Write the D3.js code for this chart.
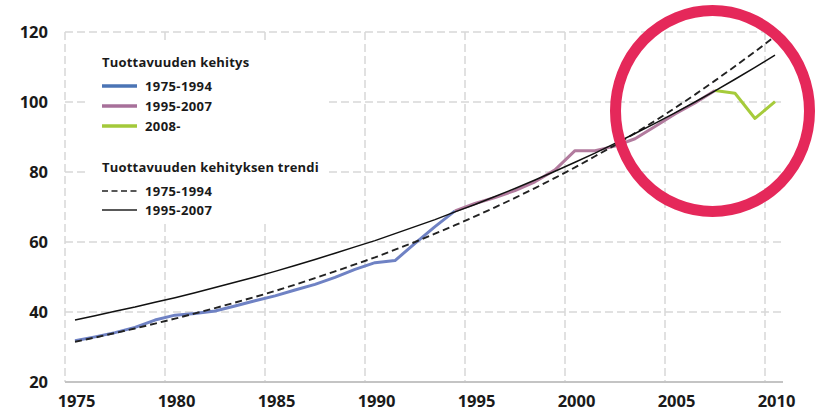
<!DOCTYPE html>
<html><head><meta charset="utf-8">
<script src="https://cdn.jsdelivr.net/npm/d3@7"></script>
<style>
html,body{margin:0;padding:0;background:#fff;}
svg{display:block;font-family:"Open Sans",sans-serif;}
</style></head>
<body><svg id="c" width="816" height="419"></svg>
<script>
const years = d3.range(1975, 2011);
const yTicks = [20, 40, 60, 80, 100, 120];
const xTickYears = [1975, 1980, 1985, 1990, 1995, 2000, 2005, 2010];

// Tuottavuuden kehitys (actual)
const years1 = d3.range(1975, 1995);
const vals1 = [31.8, 32.9, 34.1, 35.6, 37.7, 39.1, 39.6, 40.3, 41.7, 43.2,
               44.6, 46.3, 47.9, 49.9, 52.2, 54.1, 54.7, 59.6, 64.4, 68.9];
const years2 = d3.range(1994, 2008);
const vals2 = [68.9, 71.0, 72.7, 74.7, 77.2, 80.6, 86.1, 86.1, 87.4, 89.5,
               93.0, 96.6, 99.7, 103.3];
const years3 = [2007, 2008, 2009, 2010];
const vals3 = [103.3, 102.5, 95.3, 100.1];

// Trendit (read per year)
const trendA = [31.5, 32.7, 34.0, 35.3, 36.7, 38.1, 39.6, 41.1, 42.7, 44.3,
                46.0, 47.8, 49.7, 51.6, 53.6, 55.6, 57.8, 60.0, 62.4, 64.8,
                67.3, 69.9, 72.6, 75.4, 78.3, 81.3, 84.5, 87.7, 91.1, 94.6,
                98.3, 102.1, 106.1, 110.2, 114.4, 118.8];
const trendB = [37.7, 38.9, 40.2, 41.4, 42.8, 44.1, 45.5, 47.0, 48.5, 50.0,
                51.6, 53.3, 55.0, 56.8, 58.6, 60.4, 62.4, 64.4, 66.4, 68.6,
                70.7, 73.0, 75.3, 77.7, 80.2, 82.8, 85.4, 88.2, 91.0, 93.9,
                96.9, 100.0, 103.2, 106.5, 109.9, 113.4];

const legendTitle1 = "Tuottavuuden kehitys";
const legendTitle2 = "Tuottavuuden kehityksen trendi";
const legendLabels1 = ["1975-1994", "1995-2007", "2008-"];
const legendLabels2 = ["1975-1994", "1995-2007"];

const svg = d3.select("#c");
svg.append("rect").attr("width", 816).attr("height", 419).attr("fill", "#fff");

const x = d3.scaleLinear().domain([1974.5, 2010.5]).range([65, 785]);
const y = d3.scaleLinear().domain([20, 120]).range([382, 32]);

const gridCol = "#d8d8d8";
// horizontal gridlines
svg.append("g").selectAll("line").data(yTicks.filter(d => d > 20)).join("line")
  .attr("x1", x(1974.5)).attr("x2", x(2010.5))
  .attr("y1", d => y(d)).attr("y2", d => y(d))
  .attr("stroke", gridCol).attr("stroke-width", 1.5).attr("stroke-dasharray", "8,4");
// vertical gridlines
svg.append("g").selectAll("line").data(xTickYears).join("line")
  .attr("x1", d => x(d - 0.5)).attr("x2", d => x(d - 0.5))
  .attr("y1", y(120)).attr("y2", y(20))
  .attr("stroke", gridCol).attr("stroke-width", 1.5).attr("stroke-dasharray", "8,4");
// x axis line
svg.append("line").attr("x1", x(1974.5)).attr("x2", x(2010.4))
  .attr("y1", y(20)).attr("y2", y(20)).attr("stroke", "#c4c4c4").attr("stroke-width", 2);

// axes labels
const yAxis = svg.append("g").attr("transform", "translate(48,0)")
  .call(d3.axisLeft(y).tickValues(yTicks).tickSize(0).tickPadding(0));
yAxis.select(".domain").remove();
yAxis.selectAll("text").attr("font-size", 16.5).attr("font-weight", 700)
  .attr("font-family", "Open Sans").attr("fill", "#1a1a1a");

const xAxis = svg.append("g").attr("transform", "translate(1,395)")
  .call(d3.axisBottom(x).tickValues(xTickYears).tickFormat(d3.format("d")).tickSize(0).tickPadding(0));
xAxis.select(".domain").remove();
xAxis.selectAll("text").attr("font-size", 16.5).attr("font-weight", 700)
  .attr("font-family", "Open Sans").attr("fill", "#1a1a1a");

// legend background
svg.append("rect").attr("x", 88).attr("y", 42).attr("width", 237).attr("height", 180).attr("fill", "#fff");

const colBlue = "#6f82c4", colPink = "#b27b9e", colGreen = "#a6cb3b";
const legBlue = "#4b74b5", legPink = "#a7709a", legGreen = "#a3c93a";

const line = d3.line().x(d => x(d[0])).y(d => y(d[1]));
function series(ys, vs, col, w, dash) {
  svg.append("path").datum(d3.zip(ys, vs)).attr("d", line)
    .attr("fill", "none").attr("stroke", col).attr("stroke-width", w)
    .attr("stroke-linejoin", "round").attr("stroke-dasharray", dash || null);
}
series(years1, vals1, colBlue, 3);
series(years2, vals2, colPink, 3);
series(years3, vals3, colGreen, 3);
series(years, trendA, "#222", 1.9, "7,4");
series(years, trendB, "#111", 1.5);

// legend
const lg = svg.append("g").attr("font-family", "Open Sans").attr("font-weight", 700)
  .attr("fill", "#1a1a1a").attr("font-size", 13);
lg.append("text").attr("x", 102).attr("y", 67).attr("letter-spacing", 0.2).text(legendTitle1);
const lcols = [legBlue, legPink, legGreen];
legendLabels1.forEach((t, i) => {
  const yy = 86 + i * 20;
  lg.append("line").attr("x1", 102).attr("x2", 137).attr("y1", yy).attr("y2", yy)
    .attr("stroke", lcols[i]).attr("stroke-width", 3.5);
  lg.append("text").attr("x", 145).attr("y", yy + 4.5).attr("letter-spacing", 0.4).text(t);
});
lg.append("text").attr("x", 102).attr("y", 172).attr("letter-spacing", 0.2).text(legendTitle2);
legendLabels2.forEach((t, i) => {
  const yy = 191 + i * 19;
  lg.append("line").attr("x1", 102).attr("x2", 137).attr("y1", yy).attr("y2", yy)
    .attr("stroke", "#222").attr("stroke-width", i === 0 ? 1.6 : 1.4)
    .attr("stroke-dasharray", i === 0 ? "6,3.5" : null);
  lg.append("text").attr("x", 145).attr("y", yy + 4.5).attr("letter-spacing", 0.4).text(t);
});

// highlight circle
svg.append("ellipse").attr("cx", 712.5).attr("cy", 111).attr("rx", 97).attr("ry", 100.5)
  .attr("fill", "none").attr("stroke", "#e5285a").attr("stroke-width", 11);
</script></body></html>
